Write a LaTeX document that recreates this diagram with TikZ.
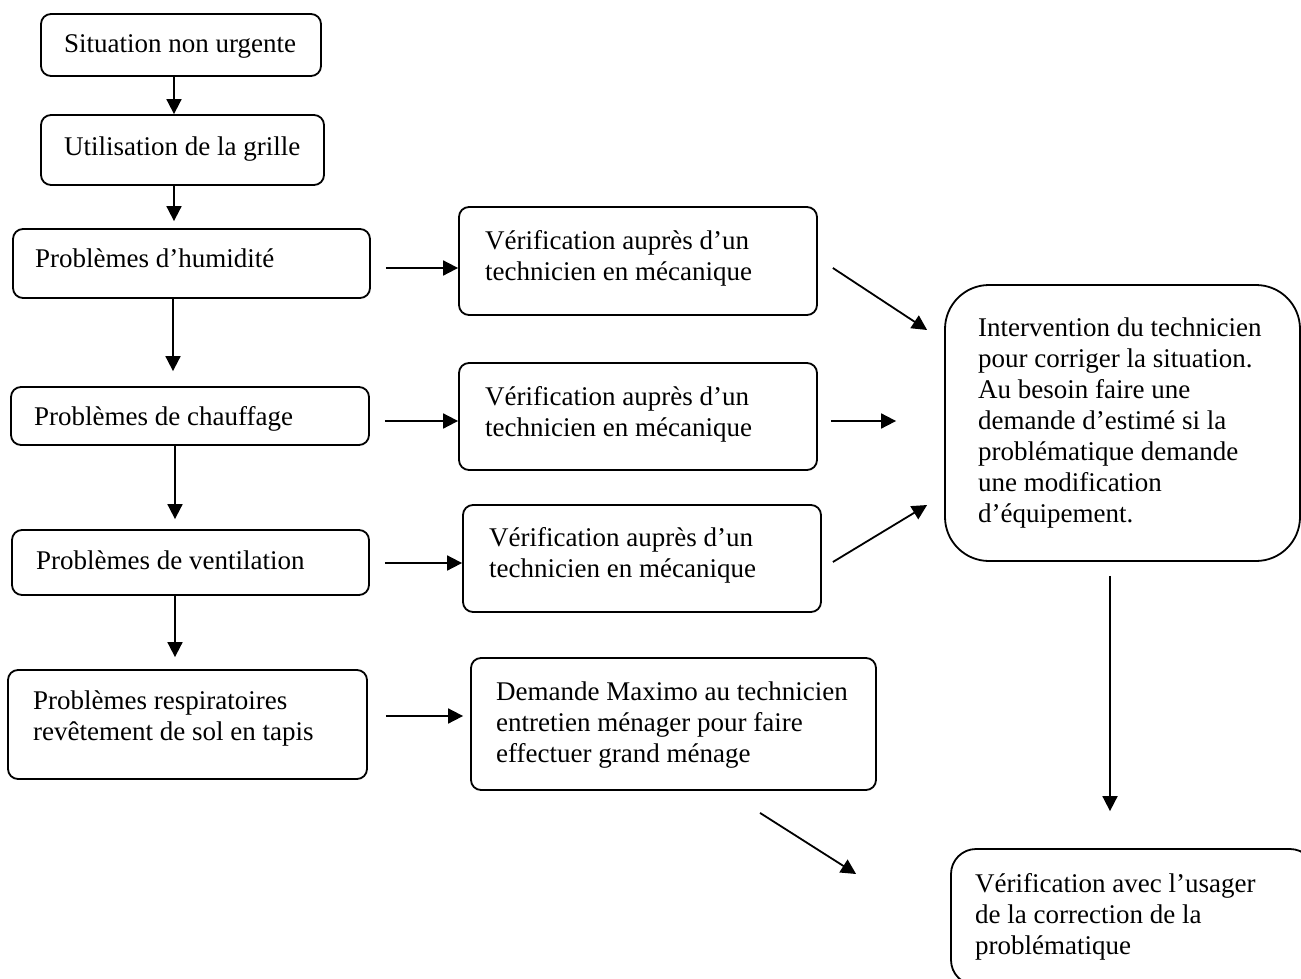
\documentclass[tikz,border=0pt]{standalone}
\usepackage{fontspec}
\setmainfont{Liberation Serif}
\usetikzlibrary{arrows.meta,calc,fit}
\begin{document}
\begin{tikzpicture}[x=1pt,y=-1pt,
  box/.style={draw, line width=1.8pt, rounded corners=10pt, inner sep=0pt},
  txt/.style={inner sep=0pt, anchor=base west, font=\fontsize{27}{31}\selectfont},
  arr/.style={line width=1.8pt, -{Triangle[length=15pt,width=15pt]}}]
\useasboundingbox (0,0) rectangle (1301,979);
\clip (0,0) rectangle (1301,979);
% boxes
\node[box, fit={(41,14) (321,76)}] (b1) {};
\node[box, fit={(41,115) (324,185)}] (b2) {};
\node[box, fit={(13,229) (370,298)}] (b3) {};
\node[box, fit={(11,387) (369,445)}] (b4) {};
\node[box, fit={(12,530) (369,595)}] (b5) {};
\node[box, fit={(8,670) (367,779)}] (b6) {};
\node[box, fit={(459,207) (817,315)}] (v1) {};
\node[box, fit={(459,363) (817,470)}] (v2) {};
\node[box, fit={(463,505) (821,612)}] (v3) {};
\node[box, fit={(471,658) (876,790)}] (dm) {};
\node[box, rounded corners=44pt, fit={(945,285) (1300,561)}] (iv) {};
\node[box, rounded corners=25pt, fit={(951,849) (1315,985)}] (us) {};
% texts
\node[txt] (t1) at (64,53) {Situation non urgente};
\node[txt] (t2) at (64,155) {Utilisation de la grille};
\node[txt] (t3) at (35,267) {Problèmes d’humidité};
\node[txt] (t4) at (34,425) {Problèmes de chauffage};
\node[txt] (t5) at (36,569) {Problèmes de ventilation};
\node[txt] (t6) at (33,709) {\begin{tabular}[t]{@{}l@{}}Problèmes respiratoires\\revêtement de sol en tapis\end{tabular}};
\node[txt] (t7) at (485,249) {\begin{tabular}[t]{@{}l@{}}Vérification auprès d’un\\technicien en mécanique\end{tabular}};
\node[txt] (t8) at (485,405) {\begin{tabular}[t]{@{}l@{}}Vérification auprès d’un\\technicien en mécanique\end{tabular}};
\node[txt] (t9) at (489,546) {\begin{tabular}[t]{@{}l@{}}Vérification auprès d’un\\technicien en mécanique\end{tabular}};
\node[txt] (t10) at (496,700) {\begin{tabular}[t]{@{}l@{}}Demande Maximo au technicien\\entretien ménager pour faire\\effectuer grand ménage\end{tabular}};
\node[txt] (t11) at (978,336) {\begin{tabular}[t]{@{}l@{}}Intervention du technicien\\pour corriger la situation.\\Au besoin faire une\\demande d’estimé si la\\problématique demande\\une modification\\d’équipement.\end{tabular}};
\node[txt] (t12) at (975,892) {\begin{tabular}[t]{@{}l@{}}Vérification avec l’usager\\de la correction de la\\problématique\end{tabular}};
% vertical chain
\coordinate (c1) at ($(b1.south)+(-7,0)$);
\draw[arr] (c1) -- (c1 |- b2.north);
\coordinate (c2) at ($(b2.south)+(-8.5,0)$);
\draw[arr, shorten >=7pt] (c2) -- (c2 |- b3.north);
\coordinate (c3) at ($(b3.south)+(-18.5,0)$);
\draw[arr, shorten >=15pt] (c3) -- (c3 |- b4.north);
\coordinate (c4) at ($(b4.south)+(-15,0)$);
\draw[arr, shorten >=10pt] (c4) -- (c4 |- b5.north);
\coordinate (c5) at ($(b5.south)+(-15.5,0)$);
\draw[arr, shorten >=12pt] (c5) -- (c5 |- b6.north);
% horizontal arrows
\coordinate (h1) at ($(b3.east)+(15,4.5)$);
\draw[arr] (h1) -- (h1 -| v1.west);
\coordinate (h2) at ($(b4.east)+(15,5)$);
\draw[arr] (h2) -- (h2 -| v2.west);
\coordinate (h3) at ($(b5.east)+(15,0.5)$);
\draw[arr] (h3) -- (h3 -| v3.west);
\coordinate (h4) at ($(b6.east)+(18,-8.5)$);
\draw[arr, shorten >=7pt] (h4) -- (h4 -| dm.west);
% diagonal arrows to intervention
\coordinate (d1s) at ($(v1.east)+(15,7)$);
\coordinate (d1e) at ($(iv.west)+(-17,-93)$);
\draw[arr] (d1s) -- (d1e);
\coordinate (d2s) at ($(v2.east)+(13,4.5)$);
\coordinate (d2e) at ($(iv.west)+(-48,-2)$);
\draw[arr] (d2s) -- (d2e);
\coordinate (d3s) at ($(v3.east)+(11,3.5)$);
\coordinate (d3e) at ($(iv.west)+(-17,82)$);
\draw[arr] (d3s) -- (d3e);
\coordinate (d4s) at ($(dm.south)+(86.5,22)$);
\coordinate (d4e) at ($(us.west)+(-94,-43)$);
\draw[arr] (d4s) -- (d4e);
% intervention to verification
\coordinate (vs) at ($(iv.south)+(-12.5,14)$);
\coordinate (ve) at ($(us.north)+(-23,-37)$);
\draw[arr] (vs) -- (vs |- ve);
\end{tikzpicture}
\end{document}
